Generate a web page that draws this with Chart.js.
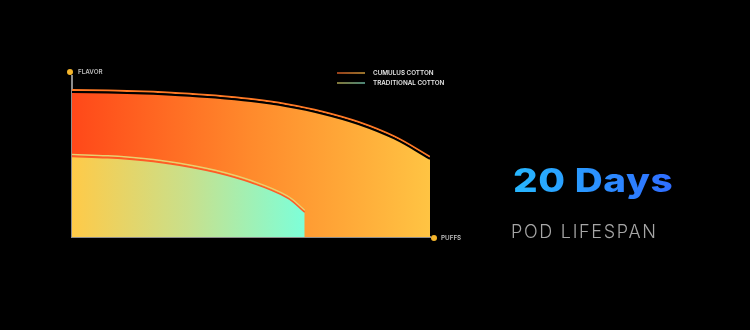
<!DOCTYPE html>
<html>
<head>
<meta charset="utf-8">
<script src="https://cdn.jsdelivr.net/npm/chart.js@4.4.1/dist/chart.umd.min.js"></script>
<style>
  html, body { margin: 0; padding: 0; background: #000; }
  #wrap { position: relative; width: 750px; height: 330px; background: #000; overflow: hidden; }
  #chart { position: absolute; left: 0; top: 0; }
  .big {
    position: absolute; left: 513px; top: 161px;
    font-family: Inter, sans-serif; font-weight: 800; font-size: 32px; letter-spacing: 0.5px;
    background: linear-gradient(90deg, #27b8ff, #2f6cff);
    -webkit-background-clip: text; background-clip: text; color: transparent;
    line-height: 40px; white-space: nowrap;
    transform: scaleX(1.21); transform-origin: left center;
  }
  .sub {
    position: absolute; left: 511px; top: 220px;
    font-family: Inter, sans-serif; font-weight: 300; font-size: 18px; letter-spacing: 1.7px;
    color: #a6a6a6; line-height: 24px; white-space: nowrap;
  }
</style>
</head>
<body>
<div id="wrap">
  <canvas id="chart" width="750" height="330"></canvas>
  <div class="big">20 Days</div>
  <div class="sub">POD LIFESPAN</div>
</div>
<script>
// du lieu
const seriesNames = ["CUMULUS COTTON", "TRADITIONAL COTTON"];
const puffsCumulus = [0, 10, 20, 30, 40, 50, 60, 70, 80, 90, 100];
const flavorCumulus = [90, 89.7, 89.1, 88.1, 86.6, 84.4, 81.2, 76.6, 70.2, 61.2, 48.5];
const puffsTraditional = [0, 10, 20, 30, 40, 50, 60, 65];
const flavorTraditional = [50, 49.2, 47.5, 44.6, 40.2, 33.8, 24.5, 15.4];
const axisLabels = ["FLAVOR", "PUFFS"];

function toPoints(xs, ys) {
  return xs.map(function (x, i) { return { x: x, y: ys[i] }; });
}

function cumulusFill(context) {
  const chart = context.chart;
  const area = chart.chartArea;
  if (!area) return null;
  const g = chart.ctx.createLinearGradient(area.left, 0, area.right, 0);
  g.addColorStop(0, "#ff4819");
  g.addColorStop(0.5, "#ff8a2c");
  g.addColorStop(1, "#ffc443");
  return g;
}

function traditionalFill(context) {
  const chart = context.chart;
  const area = chart.chartArea;
  if (!area) return null;
  const xEnd = chart.scales.x.getPixelForValue(puffsTraditional[puffsTraditional.length - 1]);
  const g = chart.ctx.createLinearGradient(area.left, 0, xEnd, 0);
  g.addColorStop(0, "#ffca48");
  g.addColorStop(0.5, "#c8e08c");
  g.addColorStop(1, "#7dffd9");
  return g;
}

// vien co bong
const edgeShadow = {
  id: "edgeShadow",
  beforeDatasetDraw(chart, args) {
    const ds = chart.data.datasets[args.index];
    chart.ctx.save();
    chart.ctx.shadowColor = ds.edgeColor;
    chart.ctx.shadowOffsetY = -2;
    chart.ctx.shadowOffsetX = 0;
    chart.ctx.shadowBlur = 0;
  },
  afterDatasetDraw(chart) {
    chart.ctx.restore();
  }
};

// chu thich + nhan truc
const decor = {
  id: "decor",
  afterDraw(chart) {
    const ctx = chart.ctx;
    const area = chart.chartArea;
    ctx.save();
    ctx.font = "600 6.3px Inter, sans-serif";
    ctx.textBaseline = "middle";

    // nhan truc
    ctx.fillStyle = "#f4b52c";
    ctx.beginPath(); ctx.arc(area.left - 2, area.top - 4, 3, 0, Math.PI * 2); ctx.fill();
    ctx.beginPath(); ctx.arc(area.right + 4, area.bottom + 1, 3, 0, Math.PI * 2); ctx.fill();
    ctx.fillStyle = "#bdbdbd";
    ctx.fillText(axisLabels[0], area.left + 6, area.top - 4);
    ctx.fillText(axisLabels[1], area.right + 11, area.bottom + 1);

    // chu thich
    const lx = 337, ly = 73, len = 28;
    const g1 = ctx.createLinearGradient(lx, 0, lx + len, 0);
    g1.addColorStop(0, "#ff6a2a"); g1.addColorStop(1, "#ffc24a");
    const g2 = ctx.createLinearGradient(lx, 0, lx + len, 0);
    g2.addColorStop(0, "#d9c860"); g2.addColorStop(1, "#7fe0c8");
    [g1, g2].forEach(function (g, i) {
      ctx.strokeStyle = g;
      ctx.lineWidth = 1.2;
      ctx.beginPath();
      ctx.moveTo(lx, ly + i * 10);
      ctx.lineTo(lx + len, ly + i * 10);
      ctx.stroke();
      ctx.fillStyle = "#e6e6e6";
      ctx.fillText(seriesNames[i], lx + 36, ly + i * 10 + 0.5);
    });
    ctx.restore();
  }
};

const ctx = document.getElementById("chart");
new Chart(ctx, {
  type: "line",
  data: {
    datasets: [
      {
        label: seriesNames[0],
        data: toPoints(puffsCumulus, flavorCumulus),
        backgroundColor: cumulusFill,
        borderColor: "#000",
        edgeColor: "#ff7a26",
        borderWidth: 2,
        fill: "origin",
        tension: 0.4,
        pointRadius: 0,
        order: 2,
      },
      {
        label: seriesNames[1],
        data: toPoints(puffsTraditional, flavorTraditional),
        backgroundColor: traditionalFill,
        borderColor: "#ff5a26",
        edgeColor: "#e8d070",
        borderWidth: 1.5,
        fill: "origin",
        tension: 0.4,
        pointRadius: 0,
        order: 1,
      },
    ],
  },
  options: {
    responsive: false,
    animation: false,
    layout: { padding: { left: 64, right: 320, top: 76, bottom: 85 } },
    plugins: { legend: { display: false }, tooltip: { enabled: false } },
    scales: {
      x: {
        type: "linear", min: 0, max: 100,
        grid: { display: false },
        ticks: { display: false },
        border: { display: true, color: "#8c8c8c", width: 2 },
      },
      y: {
        min: 0, max: 100,
        grid: { display: false },
        ticks: { display: false },
        border: { display: true, color: "#8c8c8c", width: 2 },
      },
    },
  },
  plugins: [edgeShadow, decor],
});
</script>
</body>
</html>
